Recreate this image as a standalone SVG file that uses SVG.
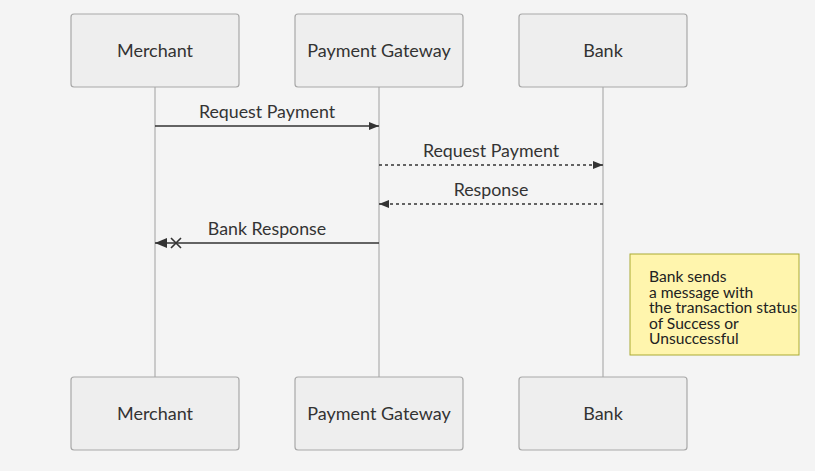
<svg xmlns="http://www.w3.org/2000/svg" width="815" height="471" viewBox="0 0 815 471">
<defs>
<style>
.bg{fill:#f4f4f4}
.actor{fill:#eeeeee;stroke:#a8a8a8;stroke-width:1.2}
.life{stroke:#a0a0a0;stroke-width:1;fill:none}
.atext{font-family:Lato,"Noto Sans",sans-serif;font-size:18px;fill:#333;text-anchor:middle;dominant-baseline:central}
.msg{stroke:#333;stroke-width:1.6;fill:none}
.dash{stroke-dasharray:3,3}
.mtext{font-family:Lato,"Noto Sans",sans-serif;font-size:17.8px;fill:#333;text-anchor:middle}
.note{fill:#fff5ad;stroke:#aaaa33;stroke-width:1}
.ntext{font-family:Lato,"Noto Sans",sans-serif;font-size:15.6px;fill:#222}
</style>
<marker id="arrow" viewBox="0 0 10 8" refX="10" refY="4" markerWidth="10" markerHeight="8" markerUnits="userSpaceOnUse" orient="auto">
<path d="M0,0 L10,4 L0,8 z" fill="#333"/>
</marker>
<marker id="arrowbig" viewBox="0 0 12 10" refX="12" refY="5" markerWidth="12" markerHeight="10" markerUnits="userSpaceOnUse" orient="auto">
<path d="M0,0 L12,5 L0,10 z" fill="#333"/>
</marker>
</defs>
<rect class="bg" x="0" y="0" width="815" height="471"/>
<g id="lifelines">
<line class="life" x1="155" y1="87" x2="155" y2="378"/>
<line class="life" x1="379" y1="87" x2="379" y2="378"/>
<line class="life" x1="603" y1="87" x2="603" y2="378"/>
</g>
<g id="merchant-top"><rect class="actor" x="71" y="14" width="168" height="73" rx="3"/><text class="atext" x="155" y="50">Merchant</text></g>
<g id="gateway-top"><rect class="actor" x="295" y="14" width="168" height="73" rx="3"/><text class="atext" x="379" y="50">Payment Gateway</text></g>
<g id="bank-top"><rect class="actor" x="519" y="14" width="168" height="73" rx="3"/><text class="atext" x="603" y="50">Bank</text></g>
<g id="merchant-bottom"><rect class="actor" x="71" y="377" width="168" height="73" rx="3"/><text class="atext" x="155" y="413">Merchant</text></g>
<g id="gateway-bottom"><rect class="actor" x="295" y="377" width="168" height="73" rx="3"/><text class="atext" x="379" y="413">Payment Gateway</text></g>
<g id="bank-bottom"><rect class="actor" x="519" y="377" width="168" height="73" rx="3"/><text class="atext" x="603" y="413">Bank</text></g>
<g id="connectors">
<line class="msg" x1="155" y1="126" x2="379" y2="126" marker-end="url(#arrow)"/>
<text class="mtext" x="267" y="118">Request Payment</text>
<line class="msg dash" x1="379" y1="165" x2="603" y2="165" marker-end="url(#arrow)"/>
<text class="mtext" x="491" y="157">Request Payment</text>
<line class="msg dash" x1="603" y1="204" x2="379" y2="204" marker-end="url(#arrow)"/>
<text class="mtext" x="491" y="196">Response</text>
<line class="msg" x1="379" y1="243" x2="155" y2="243" marker-end="url(#arrowbig)"/>
<path d="M171,238 L181,248 M181,238 L171,248" stroke="#333" stroke-width="1.6" fill="none"/>
<text class="mtext" x="267" y="235">Bank Response</text>
</g>
<g id="note">
<rect class="note" x="630" y="254" width="169" height="101"/>
<text class="ntext" x="649" y="282">Bank sends</text>
<text class="ntext" x="649" y="297.5"> a message with</text>
<text class="ntext" x="649" y="313"> the transaction status</text>
<text class="ntext" x="649" y="328.5">of Success or</text>
<text class="ntext" x="649" y="344">Unsuccessful</text>
</g>
</svg>
